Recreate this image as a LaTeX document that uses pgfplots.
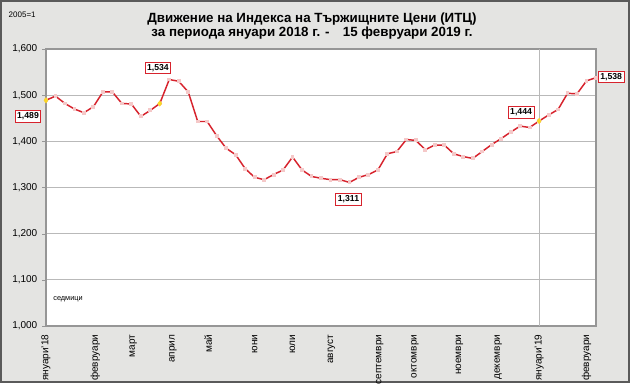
\documentclass[border=0pt]{standalone}
\usepackage{pgfplots}
\pgfplotsset{compat=1.18}
\usepackage{fontspec}
\setmainfont{Liberation Sans}
\definecolor{bggray}{RGB}{228,228,226}
\definecolor{framegray}{RGB}{90,90,90}
\definecolor{axgray}{RGB}{150,150,150}
\definecolor{gridgray}{RGB}{185,185,185}
\definecolor{linered}{RGB}{215,35,45}
\definecolor{markpink}{RGB}{245,200,200}
\definecolor{yel}{RGB}{250,215,40}
\pgfplotstableread{
x y
0 1489
1 1498
2 1482
3 1470
4 1462
5 1475
6 1507
7 1507
8 1482
9 1481
10 1454
11 1467
12 1482
13 1534
14 1530
15 1507
16 1443
17 1443
18 1412
19 1385
20 1371
21 1341
22 1322
23 1317
24 1328
25 1338
26 1366
27 1338
28 1324
29 1320
30 1317
31 1317
32 1311
33 1322
34 1328
35 1338
36 1373
37 1378
38 1404
39 1402
40 1382
41 1392
42 1392
43 1373
44 1367
45 1363
46 1378
47 1393
48 1406
49 1420
50 1433
51 1430
52 1444
53 1457
54 1469
55 1504
56 1503
57 1531
58 1538
}\itcdata
\begin{document}
\begin{tikzpicture}
\useasboundingbox (0,0) rectangle (472.5pt,287.25pt);
\fill[bggray] (0,0) rectangle (472.5pt,287.25pt);
\draw[framegray, line width=1.6pt] (0.8pt,0.8pt) rectangle (471.7pt,286.45pt);
\node[font=\fontsize{6pt}{7pt}\selectfont, anchor=west] at (3pt,276.5pt) {2005=1};
\node[font=\bfseries\fontsize{10pt}{10.5pt}\selectfont, align=center] at (234pt,267.5pt)
  {Движение на Индекса на Тържищните Цени (ИТЦ)\\за периода януари 2018 г. -\quad 15 февруари 2019 г.};
\begin{axis}[
  at={(34.5pt,42.75pt)}, anchor=south west,
  scale only axis, width=412.5pt, height=207.75pt,
  xmin=0, xmax=58, ymin=1000, ymax=1600,
  axis background/.style={fill=white},
  axis line style={axgray, line width=1pt},
  clip=false,
  ytick={1000,1100,1200,1300,1400,1500,1600},
  yticklabel style={/pgf/number format/fixed, /pgf/number format/1000 sep={,}, font=\fontsize{7.5pt}{8pt}\selectfont},
  /pgf/number format/assume math mode=true,
  ymajorgrids, grid style={gridgray, line width=0.6pt},
  ytick pos=left, tick align=outside,
  major tick length=3pt,
  tick style={axgray},
  xtick={0,5.2,9.2,13.4,17.1,22,26,30.1,35.2,38.9,43.6,47.7,52,57},
  xticklabels={януари'18,февруари,март,април,май,юни,юли,август,септември,октомври,ноември,декември,януари'19,февруари},
  xticklabel style={rotate=90, anchor=east, font=\fontsize{7.5pt}{8pt}\selectfont},
  x tick style={draw=none},
  xtick pos=bottom,
  extra x ticks={52}, extra x tick labels={},
  extra x tick style={grid=major, major tick length=0pt},
]
\addplot[linered, line width=1.1pt, mark=square*, mark size=0.9pt,
  mark options={fill=markpink, draw=markpink}] table[x=x,y=y] {\itcdata};
\addplot[only marks, mark=diamond*, mark size=2pt, yel] coordinates {(0,1489) (12,1482) (52,1444)};
\tikzset{lbl/.style={draw=linered, fill=white, text=black, font=\bfseries\fontsize{6.5pt}{7pt}\selectfont, inner sep=1.5pt, line width=0.6pt}}
\node[lbl] at (axis cs:-1.9,1454) {1,489};
\node[lbl] at (axis cs:11.8,1559) {1,534};
\node[lbl] at (axis cs:31.9,1274) {1,311};
\node[lbl] at (axis cs:50.1,1463) {1,444};
\node[lbl] at (axis cs:59.6,1539) {1,538};
\node[anchor=west, inner sep=0pt, font=\fontsize{5.5pt}{6pt}\selectfont] at (axis cs:0.75,1057) {седмици};
\end{axis}
\end{tikzpicture}
\end{document}
